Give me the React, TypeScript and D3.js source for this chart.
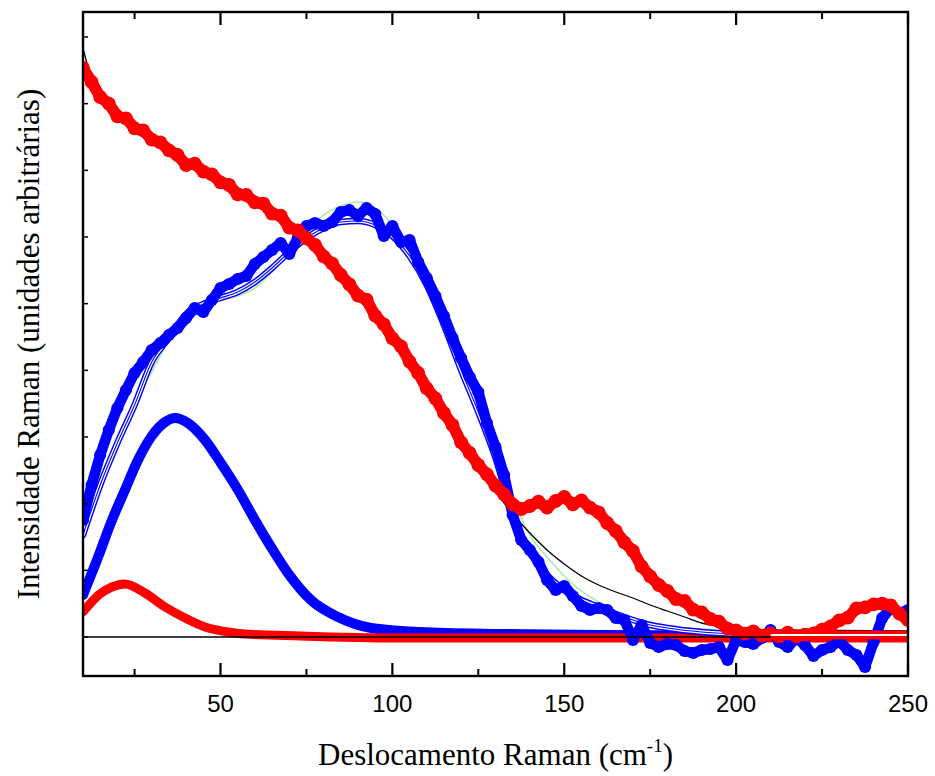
import React from "react";
import * as d3 from "d3";

// ---------- data ----------
const xMajorTicks = [50, 100, 150, 200, 250];
const xMinorTicks = [25, 75, 125, 175, 225];
const yTicks = [0, 100, 200, 300, 400, 500, 600, 700, 800, 900];

// sampling grid of the measured spectra (cm-1)
const sampleX = d3.range(10, 252.5, 2.5);

const redData = [
  853.5, 832.5, 810, 800, 781, 778, 763, 760, 746, 742, 730, 723, 708, 710, 698, 694,
  682, 678, 664, 663, 652, 650, 635, 632, 614, 610, 598, 588, 571, 560, 543, 529,
  512, 506, 482, 469, 448, 436, 413, 396, 373, 358, 336, 318, 292, 276, 258, 244,
  227, 214, 199, 192, 196.5, 203, 194, 204, 210, 199, 205, 194, 187, 171, 159, 142,
  129, 106, 91, 78, 69, 57, 54, 41, 37, 27, 23, 12.5, 10, 5, 8.5, 2, 5.5, 1, 6.5,
  1, 3.5, 5.5, 11, 16, 25, 29, 43, 44.5, 49, 50, 47.5, 35, 25.5,
];

const blueData = [
  175.5, 228, 273, 310.5, 343.5, 370.5, 396, 412.5, 430.5, 441, 453, 463.5, 478.5, 493.5, 487.5,
  505.5, 523.5, 529.5, 537, 541.5, 559.5, 570, 580.5, 591, 574.5, 598.5, 616.5, 621, 616.5, 622.5,
  637.5, 640.5, 631.5, 643.5, 634.5, 601.5, 616.5, 592.5, 595.5, 562.5, 538.5, 511.5, 481.5,
  448.5, 418.5, 390, 367.5, 321, 285, 243, 183, 145.5, 130.5, 112.5, 85.5, 70.5, 76.5, 61.5,
  46.5, 40.5, 43.5, 40.5, 28.5, 25.5, -4.5, 18, -9, -15, -10.5, -12, -21, -24, -19.5, -18, -15,
  -34.5, -4.5, -7.5, -10.5, -1.5, 10.5, -7.5, -15, -1.5, -12, -28.5, -19.5, -15, -6, -19.5, -27,
  -45, -7.5, 28.5, 43.5, 36, 40.5,
];

// fit of the blue spectrum (white-cored line)
const blueFitX = [10, 15, 20, 25, 30, 35, 40, 45, 50, 55, 60, 65, 70, 75, 80, 85, 90, 95, 100, 105, 110, 115, 120, 125, 130, 135, 140, 145, 150, 155, 160, 165, 170, 175, 180, 190, 200, 210, 250];
const blueFitY = [153, 228, 291, 348, 412.5, 448.5, 484.5, 499.5, 508.5, 517.5, 532.5, 553.5, 577.5, 598.5, 613.5, 622.5, 624, 618, 601.5, 571.5, 528, 468, 400.5, 337.5, 268.5, 183, 127.5, 93, 70.5, 55.5, 45, 34.5, 25.5, 18, 13.5, 7.5, 4.5, 3, 1.5];

// cumulative fit (light green dashed)
const greenFitX = [10, 15, 20, 25, 30, 35, 40, 45, 50, 55, 60, 65, 70, 75, 80, 85, 90, 95, 100, 105, 110, 115, 120, 125, 130, 135, 140, 145, 150, 155, 160, 165, 170, 175, 180, 190, 200, 220, 250];
const greenFitY = [145.5, 220.5, 288, 355.5, 397.5, 445.5, 481.5, 498, 505.5, 511.5, 523.5, 547.5, 577.5, 610.5, 633, 646.5, 652.5, 643.5, 618, 577.5, 531, 472.5, 408, 343.5, 280.5, 208.5, 153, 120, 91.5, 69, 52.5, 37.5, 28.5, 22.5, 16.5, 12, 9, 7.5, 7.5];

// fit of the red spectrum (thin black)
const blackFitX = [10, 12.5, 15, 20, 25, 30, 35, 40, 45, 50, 55, 60, 65, 70, 75, 80, 85, 90, 95, 100, 105, 110, 115, 120, 125, 130, 135, 140, 145, 150, 155, 160, 165, 170, 175, 180, 185, 190, 195, 200, 210, 250];
const blackFitY = [883.5, 838.5, 817.5, 790.5, 769.5, 751.5, 733.5, 715.5, 699, 687, 673.5, 660, 643.5, 622.5, 598.5, 573, 543, 510, 475.5, 441, 405, 364.5, 324, 285, 250.5, 217.5, 184.5, 156, 130.5, 109.5, 91.5, 78, 67.5, 58.5, 48, 39, 30, 21, 16.5, 13.5, 10.5, 9];

// low-frequency component of the blue spectrum
const blueBandX = [10, 14.4, 18.1, 22.2, 26, 29.8, 33.9, 36.8, 40.5, 45.5, 50.1, 55.1, 60, 64.7, 69.6, 76.3, 84.2, 93.8, 108, 131.3, 160.4, 250];
const blueBandY = [63, 120, 171, 220.5, 265.5, 300, 322.5, 328.5, 321, 295.5, 261, 220.5, 175.5, 135, 96, 55.5, 30, 13.5, 7.5, 4.5, 3, 1.5];

// low-frequency component of the red spectrum
const redBandX = [10, 14.9, 18.4, 22.2, 28, 33.9, 39.7, 45.5, 52.2, 57.1, 73.1, 102, 250];
const redBandY = [37.5, 64.5, 75, 79.5, 66, 45, 28.5, 15, 7.5, 4.5, 1.5, -1.5, -1.5];

// red cumulative fit tail
const redFitX = [210, 230, 250];
const redFitY = [3, 3, 3];

const baselineX = [10, 250];
const baselineY = [0, 0];

// ---------- layout ----------
const W = 935;
const H = 776;
const left = 83;
const right = 908;
const top = 12;
const bottom = 676;

const x = d3.scaleLinear().domain([10, 250]).range([left, right]);
const y = d3.scaleLinear().domain([-58.5, 937.5]).range([bottom, top]);

const zip = (xs: number[], ys: number[]) => xs.map((v, i) => [v, ys[i]] as [number, number]);

const lineLin = d3.line<[number, number]>().x((d) => x(d[0])).y((d) => y(d[1])).curve(d3.curveLinear);
const lineSmooth = d3.line<[number, number]>().x((d) => x(d[0])).y((d) => y(d[1])).curve(d3.curveMonotoneX);

const BLUE = "#0000ff";
const RED = "#ff0000";

export default function App() {
  const redPts = zip(sampleX, redData);
  const bluePts = zip(sampleX, blueData);
  const redPath = lineLin(redPts) || "";
  const bluePath = lineLin(bluePts) || "";
  const blueFit = lineSmooth(zip(blueFitX, blueFitY)) || "";
  const greenFit = lineSmooth(zip(greenFitX, greenFitY)) || "";
  const blackFit = lineSmooth(zip(blackFitX, blackFitY)) || "";
  const blueBand = lineSmooth(zip(blueBandX, blueBandY)) || "";
  const redBand = lineSmooth(zip(redBandX, redBandY)) || "";
  const redFit = lineLin(zip(redFitX, redFitY)) || "";
  const base = lineLin(zip(baselineX, baselineY)) || "";

  return (
    <svg
      width={W}
      height={H}
      style={{ position: "absolute", left: 0, top: 0, background: "#fff" }}
      xmlns="http://www.w3.org/2000/svg"
    >
      <defs>
        <clipPath id="plot">
          <rect x={left} y={top} width={right - left} height={bottom - top} />
        </clipPath>
      </defs>
      <rect x={0} y={0} width={W} height={H} fill="#fff" />
      <g clipPath="url(#plot)" fill="none" strokeLinejoin="round" strokeLinecap="round">
        <path d={greenFit} stroke="#a6eca6" strokeWidth={1.6} strokeDasharray="3 1.5" />
        <path d={blackFit} stroke="#000" strokeWidth={1.3} />
        <path d={blueBand} stroke={BLUE} strokeWidth={10} />
        <path d={redBand} stroke={RED} strokeWidth={9} />
        <path d={blueFit} stroke={BLUE} strokeWidth={6.5} />
        <path d={blueFit} stroke="#fff" strokeWidth={3.6} />
        <path d={blueFit} stroke={BLUE} strokeWidth={1.1} />
        <path d={bluePath} stroke={BLUE} strokeWidth={10.5} />
        <g fill={BLUE} stroke="none">
          {bluePts.map((p, i) => (
            <circle key={"b" + i} cx={x(p[0])} cy={y(p[1])} r={6.1} />
          ))}
        </g>
        <path d={redPath} stroke={RED} strokeWidth={11.5} />
        <g fill={RED} stroke="none">
          {redPts.map((p, i) => (
            <circle key={"r" + i} cx={x(p[0])} cy={y(p[1])} r={6.9} />
          ))}
        </g>
        <path d={base} stroke="#000" strokeWidth={1.4} strokeLinecap="butt" />
        <path d={redFit} stroke={RED} strokeWidth={9} strokeLinecap="butt" />
        <path d={redFit} stroke="#fff" strokeWidth={2} strokeLinecap="butt" />
      </g>

      {/* frame */}
      <rect x={left} y={top} width={right - left} height={bottom - top} fill="none" stroke="#000" strokeWidth={2.4} />

      {/* x ticks bottom & top */}
      {xMajorTicks.map((t) => (
        <g key={"M" + t}>
          <line x1={x(t)} x2={x(t)} y1={bottom} y2={bottom - 13} stroke="#000" strokeWidth={2.2} />
          <line x1={x(t)} x2={x(t)} y1={top} y2={top + 13} stroke="#000" strokeWidth={2.2} />
          <text
            x={x(t)}
            y={712}
            textAnchor="middle"
            fontFamily="'Liberation Sans', Arial, sans-serif"
            fontSize={24}
            fill="#000"
          >
            {t}
          </text>
        </g>
      ))}
      {xMinorTicks.map((t) => (
        <g key={"m" + t}>
          <line x1={x(t)} x2={x(t)} y1={bottom} y2={bottom - 7} stroke="#000" strokeWidth={2} />
          <line x1={x(t)} x2={x(t)} y1={top} y2={top + 7} stroke="#000" strokeWidth={2} />
        </g>
      ))}
      {yTicks.map((t) => (
        <line key={"y" + t} x1={left} x2={left + 5} y1={y(t)} y2={y(t)} stroke="#000" strokeWidth={1.5} />
      ))}

      {/* axis titles */}
      <text
        x={(left + right) / 2}
        y={765}
        textAnchor="middle"
        fontFamily="'Liberation Serif', 'Times New Roman', serif"
        fontSize={31}
        fill="#000"
      >
        Deslocamento Raman (cm
        <tspan fontSize={19} dy={-13}>-1</tspan>
        <tspan dy={13}>)</tspan>
      </text>
      <text
        transform={`translate(39, ${(top + bottom) / 2}) rotate(-90)`}
        textAnchor="middle"
        fontFamily="'Liberation Serif', 'Times New Roman', serif"
        fontSize={31}
        fill="#000"
      >
        Intensidade Raman (unidades arbitrárias)
      </text>
    </svg>
  );
}
